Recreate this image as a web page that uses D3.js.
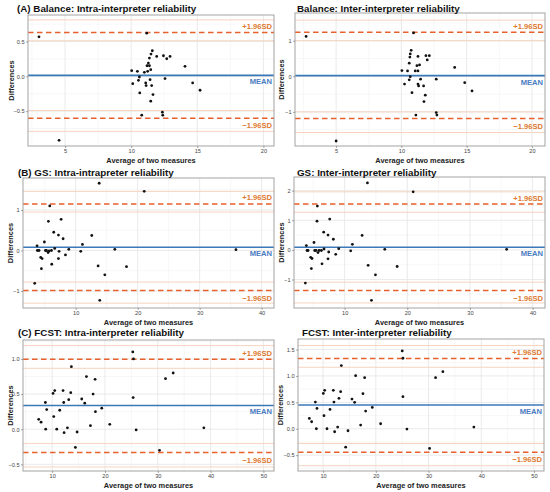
<!DOCTYPE html>
<html><head><meta charset="utf-8">
<script src="https://cdn.jsdelivr.net/npm/d3@7"></script>
<style>
body{margin:0;background:#fff;}
svg{display:block;font-family:"Liberation Sans",Arial,sans-serif;}
</style></head>
<body><svg id="c" width="550" height="492"></svg>
<script>
// ---------- data ----------
const titles = [
  "(A) Balance: Intra-interpreter reliability",
  "Balance: Inter-interpreter reliability",
  "(B) GS: Intra-intrapreter reliability",
  "GS: Inter-interpreter reliability",
  "(C) FCST: Intra-interpreter reliability",
  "FCST: Inter-interpreter reliability"
];
// Balance intra
const balIntraX = [3.03,11.18,11.60,11.50,11.38,11.30,11.93,11.25,11.48,10.04,10.47,11.00,11.20,11.38,12.44,12.69,12.94,12.56,10.62,10.55,10.12,11.10,11.43,11.13,11.55,11.65,11.48,10.65,14.07,14.65,15.21,10.80,12.36,12.39,4.55];
const balIntraY = [0.567,0.619,0.367,0.319,0.262,0.190,0.286,0.071,0.095,0.081,0.071,0.057,0.152,0.152,0.295,0.252,0.286,-0.033,-0.010,-0.057,-0.105,-0.095,-0.048,-0.133,-0.133,-0.262,-0.357,-0.238,0.143,-0.095,-0.200,-0.557,-0.514,-0.557,-0.919];
// Balance inter
const balInterX = [2.70,10.93,10.75,10.68,10.65,10.60,11.27,11.88,12.14,11.98,10.04,10.47,11.06,11.19,11.27,11.39,10.68,10.24,10.60,11.27,11.32,11.47,11.70,10.81,11.83,11.73,12.67,14.08,14.85,15.41,11.11,12.67,12.72,5.00];
const balInterY = [1.12,1.22,0.73,0.63,0.54,0.37,0.56,0.58,0.58,0.46,0.16,0.15,0.15,0.30,0.15,0.32,-0.01,-0.22,-0.10,-0.22,-0.27,-0.08,-0.27,-0.46,-0.53,-0.71,-0.08,0.25,-0.18,-0.41,-1.09,-1.02,-1.09,-1.82];
// GS intra
const gsIntraX = [3.39,3.77,3.82,4.09,4.36,4.47,4.58,4.95,5.12,5.28,5.55,5.71,5.60,5.82,6.09,6.14,6.46,6.62,7.22,7.22,7.32,7.65,7.97,8.35,8.89,10.82,11.09,12.60,13.62,13.89,13.79,14.70,16.32,18.20,21.06,35.86];
const gsIntraY = [-0.81,0.115,0,0,-0.17,-0.45,-0.20,0.21,0,0,-0.05,-0.01,0.72,1.10,0,-0.34,0.45,0.05,0.38,-0.20,-0.02,0.77,0.29,-0.11,0.03,-0.02,0.15,0.37,-0.38,-1.23,1.66,-0.60,0.03,-0.40,1.46,0.02];
// GS inter
const gsInterX = [3.73,3.89,4.00,4.16,4.58,4.69,4.79,5.11,5.22,5.43,5.65,5.59,5.75,5.91,6.29,6.39,6.66,6.71,7.35,7.35,7.46,7.62,8.20,8.58,9.06,10.97,11.24,12.79,13.75,14.28,13.64,14.92,16.41,18.38,20.94,35.86];
const gsInterY = [-1.12,0.146,-0.02,-0.02,-0.25,-0.63,-0.29,0.25,-0.02,-0.02,1.48,0.97,-0.09,-0.02,-0.02,-0.47,0.60,0.03,0.50,-0.30,-0.07,1.04,0.36,-0.15,0.04,-0.03,0.19,0.49,-0.52,-1.70,2.26,-0.84,0.02,-0.56,1.96,0.02];
// FCST intra
const fcIntraX = [7.45,7.90,8.72,8.78,8.97,10.17,10.30,10.49,10.87,11.43,12.06,12.19,12.26,12.89,13.14,13.52,13.64,14.40,14.72,15.60,16.17,16.49,17.25,17.75,18.13,18.19,19.39,20.91,25.27,25.39,25.33,25.90,30.32,31.46,32.91,38.72];
const fcIntraY = [0.14,0.10,0.38,0.0,0.28,0.51,0.18,0.55,0.0,0.27,0.55,0.38,-0.05,0.02,0.42,0.52,0.89,-0.26,-0.04,0.43,0.37,0.75,0.05,0.50,0.71,0.25,0.30,0.07,1.10,1.00,0.45,-0.01,-0.30,0.72,0.80,0.02];
// FCST inter
const fcInterX = [7.39,7.83,8.53,8.72,8.84,10.04,10.17,10.30,10.74,11.31,11.94,12.06,12.19,12.76,13.01,13.33,13.46,14.28,14.72,15.48,15.98,16.17,17.12,17.56,17.88,18.07,19.33,20.91,25.01,25.14,25.14,25.90,30.20,31.33,32.72,38.60];
const fcInterY = [0.196,0.133,0.506,0.0,0.386,0.67,0.247,0.728,0.0,0.367,0.728,0.506,-0.057,0.032,0.576,0.703,1.196,-0.348,-0.038,0.563,0.50,1.006,0.07,0.665,0.968,0.335,0.405,0.095,1.475,1.335,0.608,-0.006,-0.373,0.968,1.082,0.032];

// mean, upper LoA, lower LoA, CI of upper [lo,hi], CI of lower [lo,hi]
const meanDiff = [0.014, 0.02, 0.08, 0.09, 0.338, 0.45];
const upperLoA = [0.63, 1.236, 1.15, 1.545, 0.995, 1.33];
const lowerLoA = [-0.60, -1.19, -0.99, -1.37, -0.333, -0.443];
const upperCI = [[0.51,0.81],[1.0,1.58],[0.95,1.46],[1.27,1.96],[0.867,1.19],[1.165,1.576]];
const lowerCI = [[-0.79,-0.49],[-1.58,-1.0],[-1.30,-0.78],[-1.79,-1.09],[-0.538,-0.205],[-0.70,-0.278]];

const xTicks = [[5,10,15,20],[5,10,15,20],[10,20,30,40],[10,20,30,40],[10,20,30,40,50],[10,20,30,40,50]];
const yTicks = [[-0.5,0,0.5],[-1,0,1],[-1,0,1],[-1,0,1,2],[-0.5,0,0.5,1.0],[-0.5,0,0.5,1.0,1.5]];
const yFmt = [".1f","d","d","d",".1f",".1f"];
const xDomains = [[2.2,20.8],[1.85,21.0],[1.5,42.0],[1.92,41.98],[4.48,52.0],[5.24,51.9]];
const yDomains = [[-1.0,0.88],[-1.96,1.78],[-1.42,1.79],[-1.96,2.46],[-0.595,1.27],[-0.80,1.70]];

const seriesX = [balIntraX, balInterX, gsIntraX, gsInterX, fcIntraX, fcInterX];
const seriesY = [balIntraY, balInterY, gsIntraY, gsInterY, fcIntraY, fcInterY];

// ---------- layout (pixel boxes of the plot panels) ----------
const boxes = [
  {l:28,r:274,t:15,b:146, tx:17, ty:12, ylx:11},
  {l:295,r:545,t:13,b:146, tx:297, ty:12, ylx:281},
  {l:23,r:274,t:178,b:308, tx:18, ty:175.5, ylx:10},
  {l:294,r:545,t:177,b:308, tx:297, ty:175.5, ylx:281},
  {l:23,r:274,t:340,b:471, tx:18, ty:335.5, ylx:10},
  {l:298,r:544,t:339,b:471, tx:302, ty:335.5, ylx:280}
];

const svg = d3.select("#c");
const C = {dash:"#e8602c", lab:"#de7a30", mean:"#3b78b8", meanLab:"#4a7cc2", ci:"#f6d3c0",
           grid:"#e4e4e4", minor:"#f1f1f1", border:"#a3a3a3", tick:"#444"};

function minorOf(ticks, dom){
  const step = ticks[1]-ticks[0];
  const out=[];
  for(let v=ticks[0]-step*5+step/2; v<=dom[1]; v+=step){ if(v>=dom[0]) out.push(v); }
  return out;
}

boxes.forEach((B,i)=>{
  const x = d3.scaleLinear().domain(xDomains[i]).range([B.l,B.r]);
  const y = d3.scaleLinear().domain(yDomains[i]).range([B.b,B.t]);
  const g = svg.append("g");
  // minor grid
  g.selectAll(".mx").data(minorOf(xTicks[i],xDomains[i])).join("line")
    .attr("x1",d=>x(d)).attr("x2",d=>x(d)).attr("y1",B.t).attr("y2",B.b)
    .attr("stroke",C.minor).attr("stroke-width",0.6);
  g.selectAll(".my").data(minorOf(yTicks[i],yDomains[i])).join("line")
    .attr("y1",d=>y(d)).attr("y2",d=>y(d)).attr("x1",B.l).attr("x2",B.r)
    .attr("stroke",C.minor).attr("stroke-width",0.6);
  // major grid
  g.selectAll(".gx").data(xTicks[i]).join("line")
    .attr("x1",d=>x(d)).attr("x2",d=>x(d)).attr("y1",B.t).attr("y2",B.b)
    .attr("stroke",C.grid).attr("stroke-width",0.8);
  g.selectAll(".gy").data(yTicks[i]).join("line")
    .attr("y1",d=>y(d)).attr("y2",d=>y(d)).attr("x1",B.l).attr("x2",B.r)
    .attr("stroke",C.grid).attr("stroke-width",0.8);
  // CI lines
  const ciVals = upperCI[i].concat(lowerCI[i]);
  g.selectAll(".ci").data(ciVals).join("line")
    .attr("x1",B.l).attr("x2",B.r).attr("y1",d=>y(d)).attr("y2",d=>y(d))
    .attr("stroke",C.ci).attr("stroke-width",1);
  // mean
  g.append("line").attr("x1",B.l).attr("x2",B.r).attr("y1",y(meanDiff[i])).attr("y2",y(meanDiff[i]))
    .attr("stroke",C.mean).attr("stroke-width",1.6);
  // LoA
  [upperLoA[i], lowerLoA[i]].forEach(v=>{
    g.append("line").attr("x1",B.l).attr("x2",B.r).attr("y1",y(v)).attr("y2",y(v))
      .attr("stroke",C.dash).attr("stroke-width",1.5).attr("stroke-dasharray","5.5,3.5");
  });
  // points
  g.selectAll(".pt").data(seriesX[i].map((v,k)=>[v,seriesY[i][k]])).join("circle")
    .attr("cx",d=>x(d[0])).attr("cy",d=>y(d[1])).attr("r",1.4).attr("fill","#111");
  // labels
  g.append("text").attr("x",B.r-2).attr("y",y(upperLoA[i])-3.5).attr("text-anchor","end")
    .attr("font-size",7.6).attr("font-weight","bold").attr("fill",C.lab).text("+1.96SD");
  g.append("text").attr("x",B.r-2).attr("y",y(meanDiff[i])+9).attr("text-anchor","end")
    .attr("font-size",7.6).attr("font-weight","bold").attr("fill",C.meanLab).text("MEAN");
  g.append("text").attr("x",B.r-2).attr("y",y(lowerLoA[i])+10).attr("text-anchor","end")
    .attr("font-size",7.6).attr("font-weight","bold").attr("fill",C.lab).text("\u22121.96SD");
  // border
  g.append("rect").attr("x",B.l).attr("y",B.t).attr("width",B.r-B.l).attr("height",B.b-B.t)
    .attr("fill","none").attr("stroke",C.border).attr("stroke-width",1);
  // axes
  const fy = d3.format(yFmt[i]);
  const ax = g.append("g").attr("transform",`translate(0,${B.b})`)
    .call(d3.axisBottom(x).tickValues(xTicks[i]).tickSize(2).tickPadding(1.5));
  const ay = g.append("g").attr("transform",`translate(${B.l},0)`)
    .call(d3.axisLeft(y).tickValues(yTicks[i]).tickSize(2).tickPadding(1.5).tickFormat(d=>fy(d).replace("-","\u2212")));
  [ax,ay].forEach(a=>{
    a.select(".domain").remove();
    a.selectAll(".tick line").attr("stroke","#555").attr("stroke-width",0.5);
    a.selectAll(".tick text").attr("font-size",5.6).attr("fill",C.tick)
      .attr("font-family","'Liberation Sans',Arial,sans-serif");
  });
  // titles
  svg.append("text").attr("x",B.tx).attr("y",B.ty).attr("font-size",9.8).attr("font-weight","bold")
    .attr("fill","#111").text(titles[i]);
  svg.append("text").attr("x",(B.l+B.r)/2).attr("y",B.b+17).attr("text-anchor","middle")
    .attr("font-size",7.4).attr("font-weight","bold").attr("fill","#222").text("Average of two measures");
  svg.append("text").attr("transform",`translate(${B.ylx+2.5},${(B.t+B.b)/2}) rotate(-90)`)
    .attr("text-anchor","middle").attr("font-size",7.4).attr("font-weight","bold").attr("fill","#222")
    .text("Differences");
});
</script></body></html>
